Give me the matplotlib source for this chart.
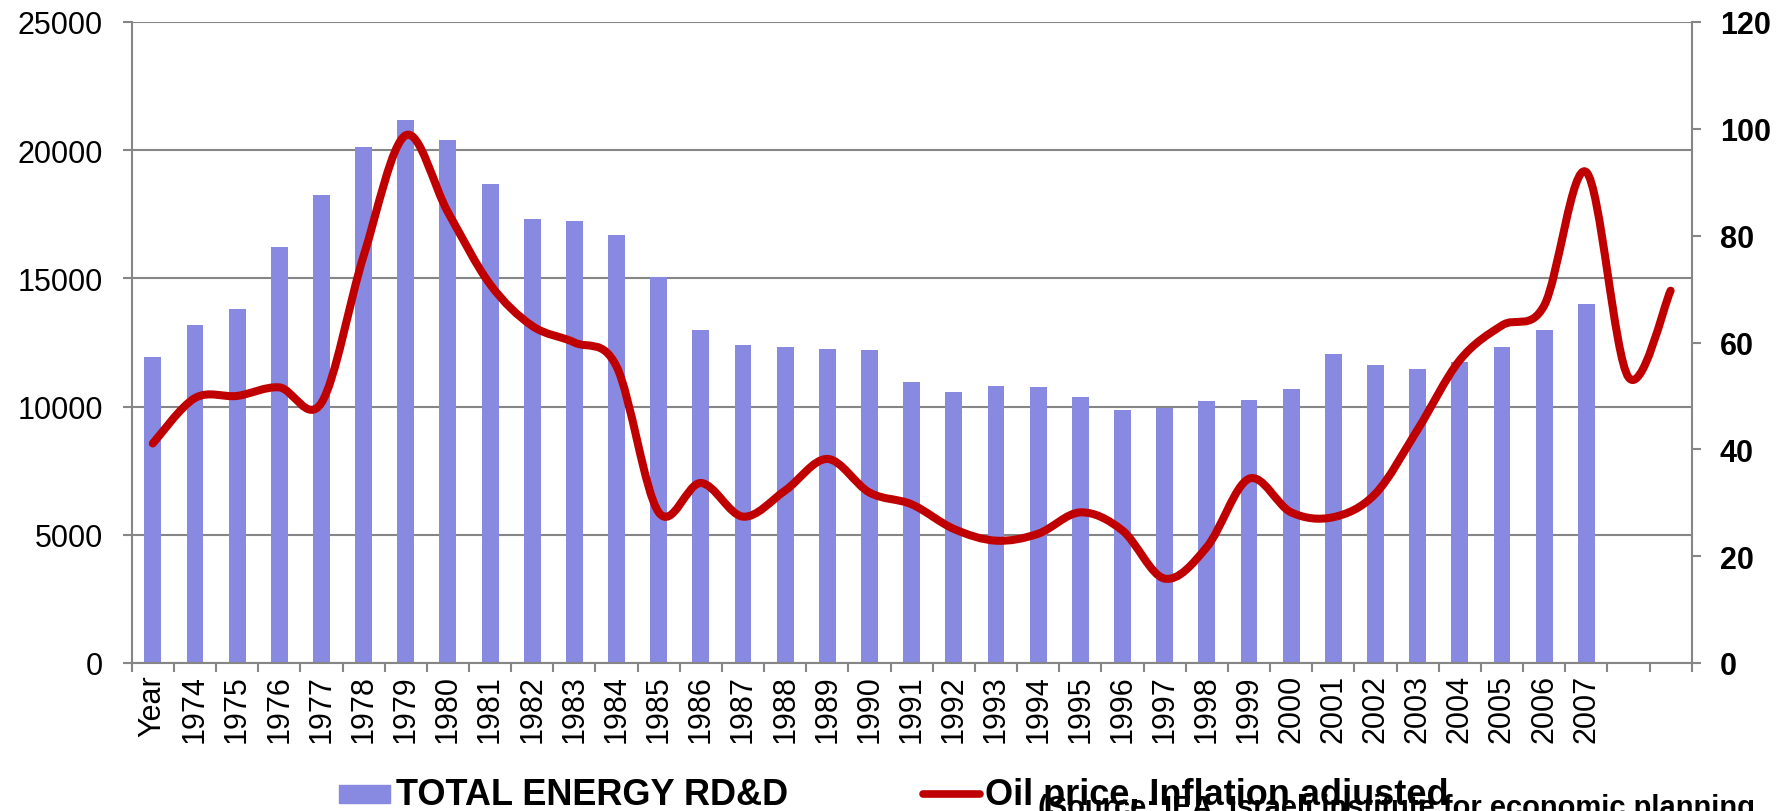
import matplotlib
matplotlib.use("Agg")
import matplotlib.pyplot as plt
from matplotlib.path import Path
from matplotlib.patches import PathPatch, Rectangle
from matplotlib.lines import Line2D

plt.rcParams['font.family'] = ['Liberation Sans', 'DejaVu Sans']

# categories as in the spreadsheet: a "Year" header row, the years, two empty rows
categories = ['Year'] + [str(y) for y in range(1974, 2008)] + ['', '']

# TOTAL ENERGY RD&D (left axis)
rdd = [11950, 13190, 13810, 16220, 18250, 20120, 21190, 20390, 18690, 17310,
       17240, 16710, 15070, 13000, 12390, 12340, 12250, 12200, 10970, 10560,
       10810, 10750, 10360, 9880, 9930, 10220, 10250, 10690, 12070, 11630,
       11470, 11730, 12310, 13000, 14000]

# Oil price, inflation adjusted (right axis)
oil = [41.1, 49.6, 50.0, 51.6, 48.7, 76.2, 98.8, 84.4, 70.9, 63.1,
       60.0, 55.5, 28.2, 33.7, 27.4, 32.3, 38.2, 31.9, 29.7, 25.1,
       22.9, 24.2, 28.2, 24.8, 15.8, 21.7, 34.5, 28.2, 27.3, 31.7,
       43.7, 56.7, 63.2, 66.9, 91.9, 53.5, 69.7]

gray = '#868686'
bar_color = '#8889E0'
line_color = '#C00000'

fig = plt.figure(figsize=(17.91, 8.12), dpi=100)
ax = fig.add_axes([131.7 / 1791, 1 - 664 / 812, 1560 / 1791, 641 / 812])

ax.bar(range(len(rdd)), rdd, width=0.4, color=bar_color, zorder=2)
ax.set_xlim(-0.5, len(categories) - 0.5)
ax.set_ylim(0, 25000)
ax.set_yticks(range(0, 25001, 5000))
ax.yaxis.grid(True, color=gray, lw=1.5)
ax.set_axisbelow(True)

ax.set_xticks(range(len(categories)))
ax.set_xticklabels(categories, rotation=90, fontsize=22)
ax.tick_params(axis='x', which='major', length=0, pad=8)
ax.set_xticks([i - 0.5 for i in range(len(categories) + 1)], minor=True)
ax.tick_params(axis='x', which='minor', length=6.5, width=1.5, color=gray,
               direction='out')
ax.tick_params(axis='y', length=6.8, width=1.5, color=gray, labelsize=22, pad=14)

ax.spines['top'].set_visible(False)
ax.spines['right'].set_visible(False)
for s in ['left', 'bottom']:
    ax.spines[s].set_color(gray)
    ax.spines[s].set_linewidth(1.5)

ax2 = ax.twinx()
ax2.set_ylim(0, 120)
ax2.set_yticks(range(0, 121, 20))
ax2.tick_params(axis='y', length=6.8, width=1.5, color=gray, labelsize=22, pad=13.5)
for lab in ax2.get_yticklabels():
    lab.set_fontweight('bold')
for s in ['top', 'left', 'bottom']:
    ax2.spines[s].set_visible(False)
ax2.spines['right'].set_color(gray)
ax2.spines['right'].set_linewidth(1.5)

# smoothed line (Excel-style bezier through the points)
n = len(oil)
xs = list(range(n))
verts = [(xs[0], oil[0])]
codes = [Path.MOVETO]
for i in range(n - 1):
    a = max(i - 1, 0)
    b = min(i + 2, n - 1)
    c1 = (xs[i] + (xs[i + 1] - xs[a]) / 6, oil[i] + (oil[i + 1] - oil[a]) / 6)
    c2 = (xs[i + 1] - (xs[b] - xs[i]) / 6, oil[i + 1] - (oil[b] - oil[i]) / 6)
    verts += [c1, c2, (xs[i + 1], oil[i + 1])]
    codes += [Path.CURVE4, Path.CURVE4, Path.CURVE4]
patch = PathPatch(Path(verts, codes), fill=False, edgecolor=line_color, lw=5.8,
                  capstyle='round', joinstyle='round', zorder=3)
ax2.add_patch(patch)

# legend at the bottom
fig.add_artist(Rectangle((339 / 1791, 0.00985), 51 / 1791, 0.0222,
                         transform=fig.transFigure, color=bar_color))
fig.text(396 / 1791, 0.0086, 'TOTAL ENERGY RD&D', fontsize=26,
         fontweight='bold', va='baseline')
fig.add_artist(Line2D([923 / 1791, 980 / 1791], [0.0209, 0.0209],
                      transform=fig.transFigure, color=line_color, lw=5.5,
                      solid_capstyle='round'))
fig.text(985 / 1791, 0.0086, 'Oil price, Inflation adjusted', fontsize=26,
         fontweight='bold', va='baseline')
fig.text(1038 / 1791, -0.0049, '(Source: IEA, Israeli institute for economic planning',
         fontsize=21, fontweight='bold', va='baseline')

fig.savefig('out.png', dpi=100)
